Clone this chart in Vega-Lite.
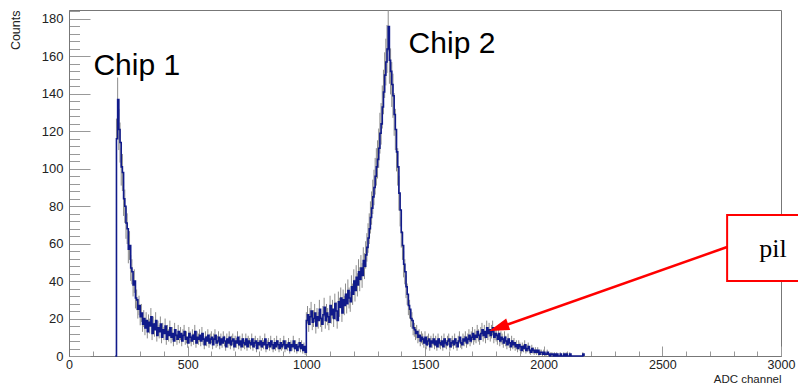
{
  "$schema": "https://vega.github.io/schema/vega-lite/v6.json",
  "width": 712,
  "height": 346,
  "autosize": {"type": "none"},
  "padding": {"left": 69, "top": 10, "right": 17, "bottom": 29},
  "background": "white",
  "config": {
    "view": {"stroke": "#777", "strokeWidth": 1},
    "font": "Liberation Sans"
  },
  "datasets": {
    "hist": [
      {"x":195,"y":0,"e":0},{"x":200,"y":116,"e":10.8},{"x":205,"y":137,"e":11.7},{"x":210,"y":121,"e":11},{"x":215,"y":114,"e":10.7},
      {"x":220,"y":101,"e":10},{"x":225,"y":98,"e":9.9},{"x":230,"y":84,"e":9.2},{"x":235,"y":80,"e":8.9},{"x":240,"y":71,"e":8.4},
      {"x":245,"y":68,"e":8.2},{"x":250,"y":57,"e":7.5},{"x":255,"y":59,"e":7.7},{"x":260,"y":47,"e":6.9},{"x":265,"y":45,"e":6.7},
      {"x":270,"y":38,"e":6.2},{"x":275,"y":40,"e":6.3},{"x":280,"y":31,"e":5.6},{"x":285,"y":30,"e":5.5},{"x":290,"y":25,"e":5},
      {"x":295,"y":27,"e":5.2},{"x":300,"y":21,"e":4.6},{"x":305,"y":23,"e":4.8},{"x":310,"y":17,"e":4.1},{"x":315,"y":20,"e":4.5},
      {"x":320,"y":15,"e":3.9},{"x":325,"y":19,"e":4.4},{"x":330,"y":13,"e":3.6},{"x":335,"y":18,"e":4.2},{"x":340,"y":16,"e":4},
      {"x":345,"y":21,"e":4.6},{"x":350,"y":12,"e":3.5},{"x":355,"y":17,"e":4.1},{"x":360,"y":14,"e":3.7},{"x":365,"y":19,"e":4.4},
      {"x":370,"y":11,"e":3.3},{"x":375,"y":15,"e":3.9},{"x":380,"y":13,"e":3.6},{"x":385,"y":17,"e":4.1},{"x":390,"y":10,"e":3.2},
      {"x":395,"y":14,"e":3.7},{"x":400,"y":12,"e":3.5},{"x":405,"y":16,"e":4},{"x":410,"y":9,"e":3},{"x":415,"y":13,"e":3.6},
      {"x":420,"y":11,"e":3.3},{"x":425,"y":15,"e":3.9},{"x":430,"y":10,"e":3.2},{"x":435,"y":12,"e":3.5},{"x":440,"y":8,"e":2.8},
      {"x":445,"y":14,"e":3.7},{"x":450,"y":11,"e":3.3},{"x":455,"y":9,"e":3},{"x":460,"y":13,"e":3.6},{"x":465,"y":10,"e":3.2},
      {"x":470,"y":12,"e":3.5},{"x":475,"y":8,"e":2.8},{"x":480,"y":11,"e":3.3},{"x":485,"y":13,"e":3.6},{"x":490,"y":9,"e":3},
      {"x":495,"y":10,"e":3.2},{"x":500,"y":7,"e":2.6},{"x":505,"y":12,"e":3.5},{"x":510,"y":10,"e":3.2},{"x":515,"y":8,"e":2.8},
      {"x":520,"y":11,"e":3.3},{"x":525,"y":9,"e":3},{"x":530,"y":13,"e":3.6},{"x":535,"y":7,"e":2.6},{"x":540,"y":10,"e":3.2},
      {"x":545,"y":9,"e":3},{"x":550,"y":11,"e":3.3},{"x":555,"y":8,"e":2.8},{"x":560,"y":12,"e":3.5},{"x":565,"y":9,"e":3},
      {"x":570,"y":6,"e":2.4},{"x":575,"y":10,"e":3.2},{"x":580,"y":8,"e":2.8},{"x":585,"y":11,"e":3.3},{"x":590,"y":7,"e":2.6},
      {"x":595,"y":9,"e":3},{"x":600,"y":10,"e":3.2},{"x":605,"y":6,"e":2.4},{"x":610,"y":9,"e":3},{"x":615,"y":11,"e":3.3},
      {"x":620,"y":7,"e":2.6},{"x":625,"y":8,"e":2.8},{"x":630,"y":10,"e":3.2},{"x":635,"y":6,"e":2.4},{"x":640,"y":9,"e":3},
      {"x":645,"y":7,"e":2.6},{"x":650,"y":10,"e":3.2},{"x":655,"y":8,"e":2.8},{"x":660,"y":5,"e":2.2},{"x":665,"y":9,"e":3},
      {"x":670,"y":7,"e":2.6},{"x":675,"y":10,"e":3.2},{"x":680,"y":6,"e":2.4},{"x":685,"y":8,"e":2.8},{"x":690,"y":9,"e":3},
      {"x":695,"y":5,"e":2.2},{"x":700,"y":8,"e":2.8},{"x":705,"y":7,"e":2.6},{"x":710,"y":10,"e":3.2},{"x":715,"y":6,"e":2.4},
      {"x":720,"y":8,"e":2.8},{"x":725,"y":5,"e":2.2},{"x":730,"y":9,"e":3},{"x":735,"y":7,"e":2.6},{"x":740,"y":6,"e":2.4},
      {"x":745,"y":9,"e":3},{"x":750,"y":5,"e":2.2},{"x":755,"y":8,"e":2.8},{"x":760,"y":7,"e":2.6},{"x":765,"y":6,"e":2.4},
      {"x":770,"y":9,"e":3},{"x":775,"y":5,"e":2.2},{"x":780,"y":7,"e":2.6},{"x":785,"y":8,"e":2.8},{"x":790,"y":4,"e":2},
      {"x":795,"y":7,"e":2.6},{"x":800,"y":6,"e":2.4},{"x":805,"y":8,"e":2.8},{"x":810,"y":5,"e":2.2},{"x":815,"y":7,"e":2.6},
      {"x":820,"y":6,"e":2.4},{"x":825,"y":9,"e":3},{"x":830,"y":4,"e":2},{"x":835,"y":6,"e":2.4},{"x":840,"y":7,"e":2.6},
      {"x":845,"y":5,"e":2.2},{"x":850,"y":8,"e":2.8},{"x":855,"y":6,"e":2.4},{"x":860,"y":4,"e":2},{"x":865,"y":7,"e":2.6},
      {"x":870,"y":5,"e":2.2},{"x":875,"y":8,"e":2.8},{"x":880,"y":6,"e":2.4},{"x":885,"y":4,"e":2},{"x":890,"y":7,"e":2.6},
      {"x":895,"y":5,"e":2.2},{"x":900,"y":6,"e":2.4},{"x":905,"y":8,"e":2.8},{"x":910,"y":4,"e":2},{"x":915,"y":6,"e":2.4},
      {"x":920,"y":5,"e":2.2},{"x":925,"y":7,"e":2.6},{"x":930,"y":3,"e":1.7},{"x":935,"y":6,"e":2.4},{"x":940,"y":5,"e":2.2},
      {"x":945,"y":8,"e":2.8},{"x":950,"y":4,"e":2},{"x":955,"y":6,"e":2.4},{"x":960,"y":3,"e":1.7},{"x":965,"y":5,"e":2.2},
      {"x":970,"y":7,"e":2.6},{"x":975,"y":4,"e":2},{"x":980,"y":6,"e":2.4},{"x":985,"y":3,"e":1.7},{"x":990,"y":5,"e":2.2},
      {"x":995,"y":2,"e":1.4},{"x":1000,"y":19,"e":4.4},{"x":1005,"y":22,"e":4.7},{"x":1010,"y":17,"e":4.1},{"x":1015,"y":21,"e":4.6},
      {"x":1020,"y":24,"e":4.9},{"x":1025,"y":18,"e":4.2},{"x":1030,"y":20,"e":4.5},{"x":1035,"y":23,"e":4.8},{"x":1040,"y":16,"e":4},
      {"x":1045,"y":21,"e":4.6},{"x":1050,"y":19,"e":4.4},{"x":1055,"y":25,"e":5},{"x":1060,"y":20,"e":4.5},{"x":1065,"y":17,"e":4.1},
      {"x":1070,"y":22,"e":4.7},{"x":1075,"y":26,"e":5.1},{"x":1080,"y":19,"e":4.4},{"x":1085,"y":23,"e":4.8},{"x":1090,"y":21,"e":4.6},
      {"x":1095,"y":18,"e":4.2},{"x":1100,"y":27,"e":5.2},{"x":1105,"y":22,"e":4.7},{"x":1110,"y":25,"e":5},{"x":1115,"y":20,"e":4.5},
      {"x":1120,"y":28,"e":5.3},{"x":1125,"y":24,"e":4.9},{"x":1130,"y":19,"e":4.4},{"x":1135,"y":29,"e":5.4},{"x":1140,"y":26,"e":5.1},
      {"x":1145,"y":31,"e":5.6},{"x":1150,"y":23,"e":4.8},{"x":1155,"y":30,"e":5.5},{"x":1160,"y":27,"e":5.2},{"x":1165,"y":33,"e":5.7},
      {"x":1170,"y":28,"e":5.3},{"x":1175,"y":35,"e":5.9},{"x":1180,"y":31,"e":5.6},{"x":1185,"y":29,"e":5.4},{"x":1190,"y":37,"e":6.1},
      {"x":1195,"y":33,"e":5.7},{"x":1200,"y":40,"e":6.3},{"x":1205,"y":35,"e":5.9},{"x":1210,"y":42,"e":6.5},{"x":1215,"y":38,"e":6.2},
      {"x":1220,"y":45,"e":6.7},{"x":1225,"y":41,"e":6.4},{"x":1230,"y":47,"e":6.9},{"x":1235,"y":43,"e":6.6},{"x":1240,"y":51,"e":7.1},
      {"x":1245,"y":48,"e":6.9},{"x":1250,"y":54,"e":7.3},{"x":1255,"y":58,"e":7.6},{"x":1260,"y":63,"e":7.9},{"x":1265,"y":68,"e":8.2},
      {"x":1270,"y":74,"e":8.6},{"x":1275,"y":79,"e":8.9},{"x":1280,"y":85,"e":9.2},{"x":1285,"y":90,"e":9.5},{"x":1290,"y":96,"e":9.8},
      {"x":1295,"y":101,"e":10},{"x":1300,"y":105,"e":10.2},{"x":1305,"y":111,"e":10.5},{"x":1310,"y":119,"e":10.9},{"x":1315,"y":124,"e":11.1},
      {"x":1320,"y":133,"e":11.5},{"x":1325,"y":141,"e":11.9},{"x":1330,"y":150,"e":12.2},{"x":1335,"y":157,"e":12.5},{"x":1340,"y":164,"e":12.8},
      {"x":1345,"y":176,"e":13.3},{"x":1350,"y":158,"e":12.6},{"x":1355,"y":152,"e":12.3},{"x":1360,"y":145,"e":12},{"x":1365,"y":139,"e":11.8},
      {"x":1370,"y":129,"e":11.4},{"x":1375,"y":121,"e":11},{"x":1380,"y":109,"e":10.4},{"x":1385,"y":101,"e":10},{"x":1390,"y":87,"e":9.3},
      {"x":1395,"y":78,"e":8.8},{"x":1400,"y":66,"e":8.1},{"x":1405,"y":59,"e":7.7},{"x":1410,"y":49,"e":7},{"x":1415,"y":45,"e":6.7},
      {"x":1420,"y":37,"e":6.1},{"x":1425,"y":33,"e":5.7},{"x":1430,"y":27,"e":5.2},{"x":1435,"y":25,"e":5},{"x":1440,"y":20,"e":4.5},
      {"x":1445,"y":19,"e":4.4},{"x":1450,"y":15,"e":3.9},{"x":1455,"y":14,"e":3.7},{"x":1460,"y":12,"e":3.5},{"x":1465,"y":13,"e":3.6},
      {"x":1470,"y":10,"e":3.2},{"x":1475,"y":11,"e":3.3},{"x":1480,"y":8,"e":2.8},{"x":1485,"y":10,"e":3.2},{"x":1490,"y":9,"e":3},
      {"x":1495,"y":7,"e":2.6},{"x":1500,"y":10,"e":3.2},{"x":1505,"y":6,"e":2.4},{"x":1510,"y":8,"e":2.8},{"x":1515,"y":9,"e":3},
      {"x":1520,"y":5,"e":2.2},{"x":1525,"y":8,"e":2.8},{"x":1530,"y":7,"e":2.6},{"x":1535,"y":9,"e":3},{"x":1540,"y":6,"e":2.4},
      {"x":1545,"y":8,"e":2.8},{"x":1550,"y":5,"e":2.2},{"x":1555,"y":9,"e":3},{"x":1560,"y":7,"e":2.6},{"x":1565,"y":6,"e":2.4},
      {"x":1570,"y":8,"e":2.8},{"x":1575,"y":5,"e":2.2},{"x":1580,"y":9,"e":3},{"x":1585,"y":7,"e":2.6},{"x":1590,"y":6,"e":2.4},
      {"x":1595,"y":8,"e":2.8},{"x":1600,"y":9,"e":3},{"x":1605,"y":5,"e":2.2},{"x":1610,"y":7,"e":2.6},{"x":1615,"y":8,"e":2.8},
      {"x":1620,"y":6,"e":2.4},{"x":1625,"y":9,"e":3},{"x":1630,"y":7,"e":2.6},{"x":1635,"y":5,"e":2.2},{"x":1640,"y":8,"e":2.8},
      {"x":1645,"y":10,"e":3.2},{"x":1650,"y":7,"e":2.6},{"x":1655,"y":6,"e":2.4},{"x":1660,"y":9,"e":3},{"x":1665,"y":8,"e":2.8},
      {"x":1670,"y":10,"e":3.2},{"x":1675,"y":7,"e":2.6},{"x":1680,"y":9,"e":3},{"x":1685,"y":11,"e":3.3},{"x":1690,"y":8,"e":2.8},
      {"x":1695,"y":10,"e":3.2},{"x":1700,"y":12,"e":3.5},{"x":1705,"y":9,"e":3},{"x":1710,"y":11,"e":3.3},{"x":1715,"y":10,"e":3.2},
      {"x":1720,"y":13,"e":3.6},{"x":1725,"y":11,"e":3.3},{"x":1730,"y":9,"e":3},{"x":1735,"y":12,"e":3.5},{"x":1740,"y":14,"e":3.7},
      {"x":1745,"y":11,"e":3.3},{"x":1750,"y":13,"e":3.6},{"x":1755,"y":10,"e":3.2},{"x":1760,"y":15,"e":3.9},{"x":1765,"y":12,"e":3.5},
      {"x":1770,"y":14,"e":3.7},{"x":1775,"y":11,"e":3.3},{"x":1780,"y":13,"e":3.6},{"x":1785,"y":15,"e":3.9},{"x":1790,"y":10,"e":3.2},
      {"x":1795,"y":12,"e":3.5},{"x":1800,"y":11,"e":3.3},{"x":1805,"y":9,"e":3},{"x":1810,"y":12,"e":3.5},{"x":1815,"y":8,"e":2.8},
      {"x":1820,"y":10,"e":3.2},{"x":1825,"y":9,"e":3},{"x":1830,"y":7,"e":2.6},{"x":1835,"y":10,"e":3.2},{"x":1840,"y":8,"e":2.8},
      {"x":1845,"y":6,"e":2.4},{"x":1850,"y":9,"e":3},{"x":1855,"y":7,"e":2.6},{"x":1860,"y":5,"e":2.2},{"x":1865,"y":8,"e":2.8},
      {"x":1870,"y":6,"e":2.4},{"x":1875,"y":7,"e":2.6},{"x":1880,"y":5,"e":2.2},{"x":1885,"y":6,"e":2.4},{"x":1890,"y":4,"e":2},
      {"x":1895,"y":6,"e":2.4},{"x":1900,"y":5,"e":2.2},{"x":1905,"y":3,"e":1.7},{"x":1910,"y":5,"e":2.2},{"x":1915,"y":4,"e":2},
      {"x":1920,"y":6,"e":2.4},{"x":1925,"y":3,"e":1.7},{"x":1930,"y":4,"e":2},{"x":1935,"y":5,"e":2.2},{"x":1940,"y":3,"e":1.7},
      {"x":1945,"y":2,"e":1.4},{"x":1950,"y":4,"e":2},{"x":1955,"y":3,"e":1.7},{"x":1960,"y":2,"e":1.4},{"x":1965,"y":3,"e":1.7},
      {"x":1970,"y":2,"e":1.4},{"x":1975,"y":3,"e":1.7},{"x":1980,"y":1,"e":1},{"x":1985,"y":2,"e":1.4},{"x":1990,"y":2,"e":1.4},
      {"x":1995,"y":1,"e":1},{"x":2000,"y":2,"e":1.4},{"x":2005,"y":1,"e":1},{"x":2010,"y":1,"e":1},{"x":2015,"y":2,"e":1.4},
      {"x":2020,"y":1,"e":1},{"x":2025,"y":0,"e":0},{"x":2030,"y":1,"e":1},{"x":2035,"y":1,"e":1},{"x":2040,"y":0,"e":0},
      {"x":2045,"y":1,"e":1},{"x":2050,"y":0,"e":0},{"x":2055,"y":1,"e":1},{"x":2060,"y":0,"e":0},{"x":2070,"y":1,"e":1},
      {"x":2075,"y":0,"e":0},{"x":2085,"y":1,"e":1},{"x":2090,"y":0,"e":0},{"x":2095,"y":1,"e":1},{"x":2100,"y":0,"e":0},
      {"x":2110,"y":1,"e":1},{"x":2115,"y":0,"e":0},{"x":2165,"y":1,"e":1},{"x":2170,"y":0,"e":0}
    ],
    "chips": [
      {"x": 103, "y": 150.1, "t": "Chip 1"},
      {"x": 1431, "y": 161.9, "t": "Chip 2"}
    ],
    "note": [{"x": 2908, "y": 52.9, "t": "pil"}],
    "box": [{"x": 2773, "x2": 3400, "y": 40.1, "y2": 75.3}],
    "arrow": [{"x": 2773, "y": 58.2, "x2": 1818, "y2": 15.5}],
    "head": [{"x": 1771, "y": 13.4}]
  },
  "encoding": {
    "x": {
      "field": "x", "type": "quantitative",
      "scale": {"domain": [0, 3000], "nice": false, "zero": false},
      "axis": {
        "values": [0,100,200,300,400,500,600,700,800,900,1000,1100,1200,1300,1400,1500,1600,1700,1800,1900,2000,2100,2200,2300,2400,2500,2600,2700,2800,2900,3000],
        "format": "d",
        "labelExpr": "datum.value % 500 === 0 ? datum.label : ''",
        "tickSize": {"condition": {"test": "datum.value % 500 === 0", "value": -10}, "value": -5},
        "labelPadding": 12,
        "labelFlush": false,
        "labelOverlap": false,
        "labelFont": "Liberation Sans",
        "labelFontSize": 12.5,
        "labelColor": "#222",
        "tickColor": "#999",
        "domainColor": "#777",
        "grid": false,
        "title": "ADC channel",
        "titleFont": "Liberation Sans",
        "titleFontSize": 11.5,
        "titleFontWeight": "normal",
        "titleColor": "#222",
        "titleAnchor": "end",
        "titleAlign": "right",
        "titleBaseline": "alphabetic",
        "titleX": 712,
        "titleY": 26.5
      }
    },
    "y": {
      "field": "y", "type": "quantitative",
      "scale": {"domain": [0, 184.8], "nice": false, "zero": true},
      "axis": {
        "values": [0,4,8,12,16,20,24,28,32,36,40,44,48,52,56,60,64,68,72,76,80,84,88,92,96,100,104,108,112,116,120,124,128,132,136,140,144,148,152,156,160,164,168,172,176,180,184],
        "labelExpr": "datum.value % 20 === 0 ? datum.label : ''",
        "tickSize": {"condition": {"test": "datum.value % 20 === 0", "value": -21}, "value": -10.5},
        "labelPadding": 27,
        "labelOverlap": false,
        "labelFont": "Liberation Sans",
        "labelFontSize": 13,
        "labelColor": "#222",
        "tickColor": "#999",
        "domainColor": "#777",
        "grid": false,
        "title": "Counts",
        "titleFont": "Liberation Sans",
        "titleFontSize": 12.5,
        "titleFontWeight": "normal",
        "titleColor": "#222",
        "titleAnchor": "end",
        "titleAngle": -90,
        "titleAlign": "right",
        "titleBaseline": "alphabetic",
        "titleX": -50,
        "titleY": 0
      }
    }
  },
  "layer": [
    {
      "data": {"name": "hist"},
      "mark": {"type": "errorbar", "color": "#8c8c8c", "thickness": 1, "clip": true},
      "encoding": {"yError": {"field": "e"}}
    },
    {
      "data": {"name": "hist"},
      "mark": {"type": "line", "interpolate": "step-after", "color": "#101a8a", "strokeWidth": 1.6},
      "encoding": {}
    },
    {
      "data": {"name": "chips"},
      "mark": {"type": "text", "align": "left", "baseline": "alphabetic", "font": "Liberation Sans", "fontSize": 30, "color": "#000"},
      "encoding": {"text": {"field": "t"}}
    },
    {
      "data": {"name": "arrow"},
      "mark": {"type": "rule", "color": "#f00", "strokeWidth": 2.5},
      "encoding": {"x2": {"field": "x2"}, "y2": {"field": "y2"}}
    },
    {
      "data": {"name": "head"},
      "mark": {"type": "point", "shape": "M0,0L2,-0.6L2,0.6Z", "size": 400, "angle": -19.4, "filled": true, "color": "#f00", "opacity": 1, "strokeWidth": 0},
      "encoding": {}
    },
    {
      "data": {"name": "box"},
      "mark": {"type": "rect", "fill": "#fff", "stroke": "#f00", "strokeWidth": 2},
      "encoding": {"x2": {"field": "x2"}, "y2": {"field": "y2"}}
    },
    {
      "data": {"name": "note"},
      "mark": {"type": "text", "align": "left", "baseline": "alphabetic", "font": "Liberation Serif", "fontSize": 26, "color": "#000"},
      "encoding": {"text": {"field": "t"}}
    }
  ]
}
